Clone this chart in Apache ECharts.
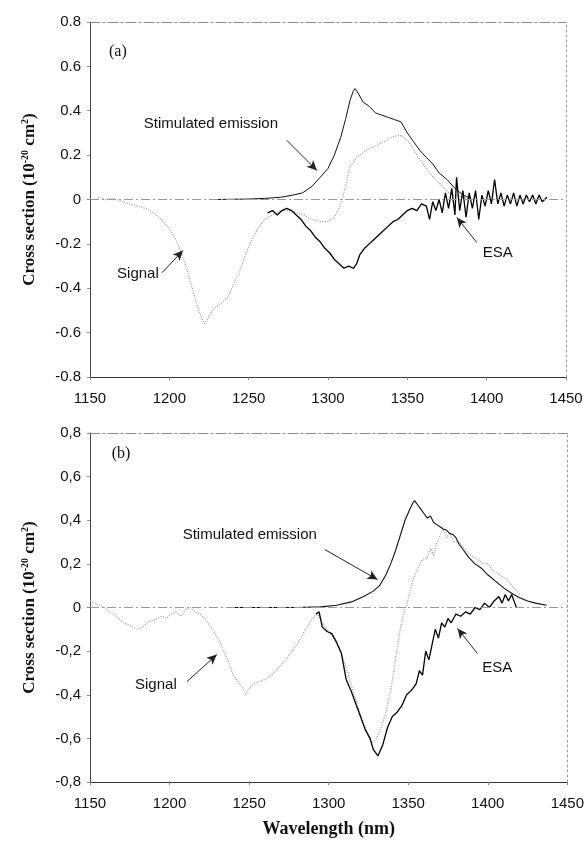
<!DOCTYPE html>
<html>
<head>
<meta charset="utf-8">
<script src="https://cdn.jsdelivr.net/npm/echarts@6/dist/echarts.min.js"></script>
<style>
  html, body { margin: 0; padding: 0; background: #fff; }
  #chart { width: 587px; height: 842px; }
</style>
</head>
<body>
<div id="chart"></div>
<script>
// axis ticks
const wlTicks = [1150, 1200, 1250, 1300, 1350, 1400, 1450]
const csTicks = [-0.8, -0.6, -0.4, -0.2, 0, 0.2, 0.4, 0.6, 0.8]

// (a) stimulated emission
const aSeWl = [1230, 1250, 1260, 1270, 1278, 1284, 1290, 1295, 1300, 1304, 1308, 1311, 1314, 1316, 1317, 1319, 1322, 1326, 1330, 1334, 1338, 1342, 1346, 1350, 1354, 1358, 1362, 1366, 1370, 1375, 1380, 1385, 1390]
const aSeVal = [0, 0.002, 0.005, 0.01, 0.02, 0.03, 0.06, 0.1, 0.14, 0.2, 0.28, 0.36, 0.45, 0.49, 0.5, 0.48, 0.44, 0.42, 0.39, 0.38, 0.37, 0.36, 0.35, 0.3, 0.26, 0.22, 0.19, 0.16, 0.12, 0.09, 0.05, 0.02, 0.005]

// (a) signal
const aSigWl = [1155, 1160, 1165, 1170, 1175, 1180, 1185, 1190, 1195, 1200, 1204, 1207, 1210, 1213, 1216, 1219, 1222, 1224, 1227, 1230, 1234, 1237, 1240, 1244, 1248, 1252, 1256, 1260, 1265, 1270, 1275, 1280, 1285, 1290, 1295, 1300, 1304, 1307, 1309, 1311, 1314, 1318, 1322, 1326, 1330, 1335, 1340, 1345, 1348, 1352, 1356, 1360, 1364, 1368, 1372, 1376, 1380, 1385, 1390]
const aSigVal = [0.01, 0.0, 0.005, -0.01, -0.02, -0.03, -0.04, -0.06, -0.09, -0.13, -0.18, -0.23, -0.29, -0.36, -0.44, -0.51, -0.56, -0.54, -0.5, -0.48, -0.46, -0.44, -0.39, -0.33, -0.25, -0.18, -0.13, -0.09, -0.07, -0.05, -0.05, -0.06, -0.07, -0.09, -0.1, -0.1, -0.08, -0.04, 0.0, 0.06, 0.15, 0.19, 0.21, 0.23, 0.24, 0.26, 0.28, 0.29, 0.28, 0.25, 0.2, 0.16, 0.12, 0.09, 0.06, 0.03, 0.02, 0.01, 0]

// (a) ESA
const aEsaWl = [1262, 1265, 1268, 1271, 1274, 1277, 1280, 1283, 1286, 1289, 1292, 1295, 1298, 1301, 1304, 1307, 1310, 1313, 1316, 1318, 1320, 1323, 1326, 1329, 1332, 1335, 1338, 1341, 1344, 1347, 1350, 1353, 1356, 1359, 1362, 1364, 1366, 1368, 1370, 1372, 1374, 1376, 1378, 1380, 1381, 1383, 1385, 1387, 1389, 1391, 1393, 1395, 1397, 1399, 1401, 1403, 1405, 1407, 1409, 1411, 1413, 1415, 1417, 1419, 1421, 1423, 1425, 1427, 1429, 1431, 1433, 1435, 1438]
const aEsaVal = [-0.06, -0.05, -0.07, -0.05, -0.04, -0.05, -0.07, -0.09, -0.12, -0.14, -0.17, -0.19, -0.22, -0.24, -0.27, -0.29, -0.31, -0.3, -0.31, -0.29, -0.25, -0.22, -0.2, -0.18, -0.16, -0.14, -0.12, -0.1, -0.09, -0.07, -0.05, -0.04, -0.05, -0.02, -0.03, -0.09, -0.01, -0.05, 0.0, -0.06, 0.03, -0.04, 0.05, -0.07, 0.1, -0.05, 0.04, -0.08, 0.03, -0.04, 0.04, -0.09, 0.02, -0.03, 0.04, -0.02, 0.09, -0.02, 0.03, -0.03, 0.02, -0.02, 0.03, -0.03, 0.02, -0.02, 0.02, -0.01, 0.02, -0.02, 0.02, -0.01, 0.01]

// (b) stimulated emission
const bSeWl = [1240, 1260, 1280, 1295, 1305, 1315, 1322, 1328, 1332, 1336, 1339, 1342, 1345, 1348, 1351, 1353, 1354, 1356, 1358, 1360, 1362, 1364, 1366, 1368, 1370, 1372, 1374, 1376, 1378, 1380, 1382, 1385, 1388, 1392, 1396, 1400, 1405, 1410, 1415, 1420, 1425, 1430, 1437]
const bSeVal = [0, 0, 0, 0.003, 0.01, 0.027, 0.05, 0.075, 0.1, 0.15, 0.2, 0.26, 0.33, 0.4, 0.45, 0.48, 0.49, 0.47, 0.45, 0.43, 0.41, 0.42, 0.39, 0.38, 0.37, 0.36, 0.355, 0.34, 0.335, 0.32, 0.29, 0.26, 0.23, 0.2, 0.18, 0.15, 0.12, 0.09, 0.065, 0.045, 0.03, 0.02, 0.01]

// (b) signal
const bSigWl = [1150, 1153, 1156, 1159, 1162, 1165, 1168, 1171, 1174, 1177, 1180, 1183, 1186, 1189, 1192, 1195, 1198, 1201, 1204, 1207, 1210, 1213, 1216, 1219, 1222, 1225, 1228, 1231, 1234, 1237, 1240, 1243, 1246, 1248, 1250, 1253, 1256, 1260, 1264, 1268, 1272, 1276, 1280, 1284, 1288, 1291, 1293, 1296, 1300, 1304, 1308, 1312, 1316, 1320, 1324, 1327, 1330, 1333, 1336, 1339, 1342, 1345, 1347, 1349, 1351, 1353, 1356, 1359, 1362, 1364, 1366, 1368, 1370, 1372, 1374, 1376, 1379, 1382, 1385, 1388, 1391, 1394, 1397, 1400, 1403, 1406, 1409, 1412, 1415, 1418, 1420]
const bSigVal = [0.03, 0.02, 0.01, 0.0, -0.02, -0.03, -0.05, -0.07, -0.08, -0.09, -0.1, -0.09, -0.07, -0.06, -0.05, -0.04, -0.05, -0.03, -0.02, -0.04, -0.01, 0.0, -0.02, -0.03, -0.05, -0.08, -0.11, -0.15, -0.2, -0.25, -0.31, -0.34, -0.37, -0.4, -0.37, -0.35, -0.34, -0.33, -0.31, -0.28, -0.25, -0.21, -0.17, -0.12, -0.07, -0.04, -0.03, -0.07, -0.11, -0.15, -0.21, -0.3, -0.4, -0.49, -0.57, -0.62, -0.6, -0.55, -0.48, -0.38, -0.24, -0.1, -0.03, 0.01, 0.07, 0.13, 0.18, 0.22, 0.23, 0.27, 0.24, 0.3, 0.33, 0.36, 0.32, 0.34, 0.3, 0.3, 0.27, 0.25, 0.23, 0.22, 0.2, 0.2, 0.17, 0.16, 0.14, 0.13, 0.1, 0.08, 0.06]

// (b) ESA
const bEsaWl = [1292, 1294, 1296, 1299, 1302, 1305, 1308, 1311, 1314, 1317, 1320, 1323, 1326, 1328, 1331, 1334, 1337, 1340, 1343, 1346, 1349, 1352, 1355, 1357, 1359, 1361, 1363, 1365, 1367, 1369, 1371, 1373, 1375, 1377, 1380, 1383, 1386, 1389, 1392, 1395, 1398, 1401, 1404, 1407, 1409, 1411, 1413, 1415, 1417, 1418]
const bEsaVal = [-0.03, -0.02, -0.09, -0.11, -0.12, -0.16, -0.21, -0.33, -0.38, -0.44, -0.5, -0.56, -0.6, -0.65, -0.68, -0.63, -0.55, -0.5, -0.48, -0.45, -0.4, -0.38, -0.35, -0.29, -0.31, -0.2, -0.24, -0.17, -0.1, -0.14, -0.07, -0.09, -0.05, -0.07, -0.03, -0.04, -0.02, -0.03, 0.0, -0.01, 0.02, 0.0, 0.03, 0.05, 0.02, 0.06, 0.03, 0.06, 0.02, 0.0]

const zip = (xs, ys) => xs.map((x, i) => [x, ys[i]])

const sans = 'Liberation Sans, Arial, sans-serif'
const serif = 'Liberation Serif, Times New Roman, serif'
const ink = '#111'

// annotation arrow (data coords)
const arrow = (from, to) => [
  { coord: from, symbol: 'none' },
  { coord: to, symbol: 'arrow', symbolSize: [7, 10] }
]
const note = (coord, text, opts) => ({
  coord: coord,
  symbol: 'circle',
  symbolSize: 1,
  itemStyle: { color: 'rgba(0,0,0,0)' },
  label: Object.assign({
    show: true,
    position: 'inside',
    formatter: text,
    color: ink,
    fontFamily: sans,
    fontSize: 15
  }, opts || {})
})

function yLabel(comma) {
  return function (v) {
    if (Math.abs(v) < 1e-9) return '0'
    const s = v.toFixed(1)
    return comma ? s.replace('.', ',') : s
  }
}

const yName = '{t|Cross section (10}{s|-20}{t| cm}{s|2}{t|)}'
const yNameStyle = {
  rich: {
    t: { fontFamily: serif, fontWeight: 'bold', fontSize: 17, color: ink, lineHeight: 18, verticalAlign: 'bottom' },
    s: { fontFamily: serif, fontWeight: 'bold', fontSize: 10, color: ink, lineHeight: 18, verticalAlign: 'top' }
  }
}

function xAxisMain(gridIndex, name) {
  return {
    type: 'value',
    gridIndex: gridIndex,
    min: wlTicks[0],
    max: wlTicks[wlTicks.length - 1],
    interval: 50,
    name: name || '',
    nameLocation: 'middle',
    nameGap: 38,
    nameTextStyle: { fontFamily: serif, fontWeight: 'bold', fontSize: 18, color: ink },
    axisLine: { onZero: false, lineStyle: { color: '#333', width: 1 } },
    axisTick: { show: true, length: 3, lineStyle: { color: '#888' } },
    axisLabel: { fontFamily: sans, fontSize: 15, color: ink, margin: 14, formatter: v => String(v) },
    splitLine: { show: false }
  }
}
function xAxisFrame(gridIndex) {
  return {
    type: 'value', gridIndex: gridIndex, position: 'top', min: 1150, max: 1450,
    axisLine: { show: true, onZero: false, lineStyle: { color: '#888', type: [10, 3, 2, 3] } },
    axisTick: { show: false }, axisLabel: { show: false }, splitLine: { show: false }
  }
}
function yAxisMain(gridIndex, comma) {
  return {
    type: 'value',
    gridIndex: gridIndex,
    min: csTicks[0],
    max: csTicks[csTicks.length - 1],
    interval: 0.2,
    name: yName,
    nameLocation: 'middle',
    nameGap: 52,
    nameRotate: 90,
    nameTextStyle: yNameStyle,
    axisLine: { show: true, onZero: false, lineStyle: { color: '#444', width: 1 } },
    axisTick: { show: true, length: 3, lineStyle: { color: '#888' } },
    axisLabel: { fontFamily: sans, fontSize: 15, color: ink, margin: 9, formatter: yLabel(comma) },
    splitLine: { show: false }
  }
}
function yAxisFrame(gridIndex) {
  return {
    type: 'value', gridIndex: gridIndex, position: 'right', min: -0.8, max: 0.8,
    axisLine: { show: true, onZero: false, lineStyle: { color: '#999', type: [2, 3] } },
    axisTick: { show: false }, axisLabel: { show: false }, splitLine: { show: false }
  }
}

const zeroLine = {
  silent: true,
  symbol: 'none',
  label: { show: false },
  lineStyle: { color: '#999', width: 1.2, type: [9, 3, 2, 3] },
  data: [{ yAxis: 0 }]
}
const arrowStyle = { color: '#222', width: 1, type: 'solid' }

const chart = echarts.init(document.getElementById('chart'))
chart.setOption({
  animation: false,
  backgroundColor: '#fff',
  grid: [
    { left: 90, right: 21, top: 22, height: 355 },
    { left: 90, right: 19, top: 433, height: 349 }
  ],
  xAxis: [xAxisMain(0), xAxisMain(1, 'Wavelength (nm)'), xAxisFrame(0), xAxisFrame(1)],
  yAxis: [yAxisMain(0, false), yAxisMain(1, true), yAxisFrame(0), yAxisFrame(1)],
  series: [
    {
      name: 'a-signal', type: 'line', xAxisIndex: 0, yAxisIndex: 0,
      data: zip(aSigWl, aSigVal), showSymbol: false, z: 2,
      lineStyle: { color: '#9a9a9a', width: 1.3, type: [1, 1.5] },
      markLine: zeroLine
    },
    {
      name: 'a-se', type: 'line', xAxisIndex: 0, yAxisIndex: 0,
      data: zip(aSeWl, aSeVal), showSymbol: false, z: 3,
      lineStyle: { color: '#111', width: 1 },
      markLine: {
        silent: true, label: { show: false }, lineStyle: arrowStyle,
        data: [
          arrow([1274, 0.267], [1293, 0.131]),
          arrow([1195.4, -0.33], [1208.6, -0.23]),
          arrow([1393.8, -0.194], [1381.2, -0.081])
        ]
      },
      markPoint: {
        silent: true,
        data: [
          note([1226.2, 0.343], 'Stimulated emission'),
          note([1180.2, -0.335], 'Signal'),
          note([1407, -0.24], 'ESA'),
          note([1167.6, 0.664], '(a)', { fontFamily: serif, fontSize: 16 })
        ]
      }
    },
    {
      name: 'a-esa', type: 'line', xAxisIndex: 0, yAxisIndex: 0,
      data: zip(aEsaWl, aEsaVal), showSymbol: false, z: 4,
      lineStyle: { color: '#000', width: 1.3 }
    },
    {
      name: 'b-signal', type: 'line', xAxisIndex: 1, yAxisIndex: 1,
      data: zip(bSigWl, bSigVal), showSymbol: false, z: 2,
      lineStyle: { color: '#9a9a9a', width: 1.3, type: [1, 1.5] },
      markLine: zeroLine
    },
    {
      name: 'b-se', type: 'line', xAxisIndex: 1, yAxisIndex: 1,
      data: zip(bSeWl, bSeVal), showSymbol: false, z: 3,
      lineStyle: { color: '#111', width: 1.1 },
      markLine: {
        silent: true, label: { show: false }, lineStyle: arrowStyle,
        data: [
          arrow([1297.5, 0.266], [1330.7, 0.128]),
          arrow([1210.9, -0.34], [1229.7, -0.216]),
          arrow([1393.5, -0.211], [1381, -0.096])
        ]
      },
      markPoint: {
        silent: true,
        data: [
          note([1250.4, 0.335], 'Stimulated emission'),
          note([1191.4, -0.353], 'Signal'),
          note([1406, -0.275], 'ESA'),
          note([1169.5, 0.706], '(b)', { fontFamily: serif, fontSize: 16 })
        ]
      }
    },
    {
      name: 'b-esa', type: 'line', xAxisIndex: 1, yAxisIndex: 1,
      data: zip(bEsaWl, bEsaVal), showSymbol: false, z: 4,
      lineStyle: { color: '#000', width: 1.3 }
    }
  ]
})
</script>
</body>
</html>
